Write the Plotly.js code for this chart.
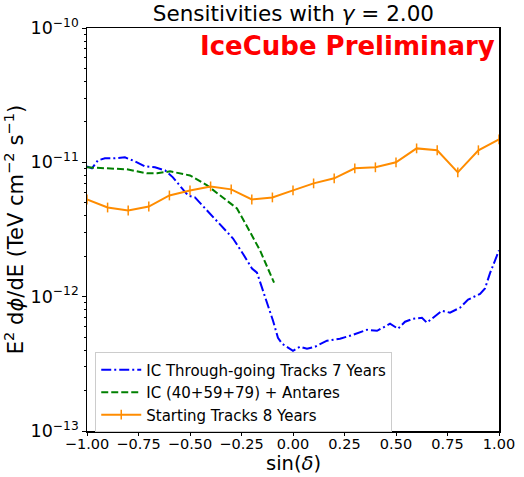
<!DOCTYPE html>
<html>
<head>
<meta charset="utf-8">
<script src="https://cdn.plot.ly/plotly-3.0.1.min.js"></script>
<style>html,body{margin:0;padding:0;background:#fff;}#chart{width:524px;height:477px;}</style>
</head>
<body>
<div id="chart"></div>
<script>
// IC Through-going Tracks 7 Years
const throughX = [-1.0,-0.976,-0.947,-0.913,-0.864,-0.816,-0.767,-0.718,-0.670,-0.621,-0.583,-0.549,-0.510,-0.476,-0.403,-0.340,-0.291,-0.243,-0.199,-0.175,-0.150,-0.126,-0.097,-0.073,-0.053,0.0,0.034,0.068,0.107,0.165,0.228,0.291,0.359,0.408,0.471,0.510,0.544,0.583,0.626,0.650,0.680,0.723,0.762,0.811,0.850,0.908,0.932,0.956,1.0];
const throughY = [9.33e-12,9.02e-12,1.035e-11,1.071e-11,1.071e-11,1.089e-11,1.017e-11,9.33e-12,9.18e-12,8.71e-12,7.73e-12,6.73e-12,5.67e-12,5.48e-12,4.16e-12,3.27e-12,2.71e-12,2.09e-12,1.62e-12,1.51e-12,1.17e-12,8.87e-13,6.62e-13,4.94e-13,4.46e-13,3.95e-13,4.24e-13,4.09e-13,4.24e-13,4.70e-13,4.86e-13,5.20e-13,5.67e-13,5.57e-13,6.29e-13,5.77e-13,6.51e-13,6.85e-13,6.97e-13,6.40e-13,6.97e-13,7.86e-13,7.60e-13,8.28e-13,9.51e-13,1.05e-12,1.15e-12,1.49e-12,2.21e-12];

// IC (40+59+79) + Antares
const antaresX = [-1.0,-0.903,-0.806,-0.709,-0.66,-0.597,-0.5,-0.417,-0.354,-0.272,-0.223,-0.160,-0.092];
const antaresY = [9.18e-12,9.02e-12,8.87e-12,8.28e-12,8.28e-12,8.57e-12,7.99e-12,6.74e-12,5.67e-12,4.54e-12,3.33e-12,2.21e-12,1.27e-12];

// Starting Tracks 8 Years
const startX = [-1.0,-0.9,-0.8,-0.7,-0.6,-0.5,-0.4,-0.3,-0.2,-0.1,0.0,0.1,0.2,0.3,0.4,0.5,0.6,0.7,0.8,0.9,1.0];
const startY = [5.29e-12,4.61e-12,4.38e-12,4.69e-12,5.67e-12,6.18e-12,6.62e-12,6.29e-12,5.29e-12,5.48e-12,6.18e-12,6.97e-12,7.60e-12,9.02e-12,9.18e-12,1.0e-11,1.27e-11,1.23e-11,8.42e-12,1.23e-11,1.48e-11];

const xTicks = [-1.0,-0.75,-0.5,-0.25,0.0,0.25,0.5,0.75,1.0];

const font = 'DejaVu Sans, sans-serif';

const traces = [
  {x: throughX, y: throughY, type: 'scatter', mode: 'lines', name: 'IC Through-going Tracks 7 Years',
   line: {color: '#0000ff', width: 2, dash: '10px,3px,2px,3px'}},
  {x: antaresX, y: antaresY, type: 'scatter', mode: 'lines', name: 'IC (40+59+79) + Antares',
   line: {color: '#008000', width: 2, dash: '7px,3px'}},
  {x: startX, y: startY, type: 'scatter', mode: 'lines+markers', name: 'Starting Tracks 8 Years',
   line: {color: '#ff8c00', width: 2},
   marker: {symbol: 'line-ns-open', size: 7, color: '#ff8c00', line: {color: '#ff8c00', width: 1.5}}}
];

const layout = {
  width: 524, height: 477,
  margin: {l: 87, r: 25, t: 28, b: 46},
  paper_bgcolor: '#fff', plot_bgcolor: '#fff',
  font: {family: font, color: '#000', size: 14},
  showlegend: true,
  title: {text: 'Sensitivities with <i>γ</i> = 2.00', font: {family: font, size: 21.5, color: '#000'},
          x: 0.56, xanchor: 'center', y: 0.972, yanchor: 'middle'},
  xaxis: {
    range: [-1, 1], tickvals: xTicks, tickformat: '.2f',
    ticks: 'outside', ticklen: 3, tickwidth: 1, tickcolor: '#000',
    showline: true, linecolor: '#000', linewidth: 1.5, mirror: true,
    showgrid: false, zeroline: false, ticklabelstandoff: -4,
    tickfont: {family: font, size: 14.5, color: '#000'}
  },
  yaxis: {
    type: 'log', range: [-13, -10], dtick: 1, exponentformat: 'power',
    ticks: 'outside', ticklen: 4, tickwidth: 1, tickcolor: '#000',
    showline: true, linecolor: '#000', linewidth: 1.5, mirror: true,
    showgrid: false, zeroline: false,
    minor: {ticks: 'outside', ticklen: 2, tickcolor: '#000', tickwidth: 1, showgrid: false},
    tickfont: {family: font, size: 14, color: '#000'},
    title: {text: 'E<sup>2</sup> d<i>ϕ</i>/dE (TeV cm<sup>−2</sup> s<sup>−1</sup>)', font: {family: font, size: 21, color: '#000'}, standoff: 4}
  },
  legend: {
    x: 0.02, y: 0.195, xanchor: 'left', yanchor: 'top',
    bgcolor: 'rgba(255,255,255,0.8)', bordercolor: '#cccccc', borderwidth: 1,
    font: {family: font, size: 15, color: '#000'},
    tracegroupgap: 0, itemwidth: 40
  },
  annotations: [
    {text: '<b>IceCube Preliminary</b>', xref: 'paper', yref: 'paper', x: 0.995, y: 0.998,
     xanchor: 'right', yanchor: 'top', showarrow: false,
     font: {family: font, size: 26, color: '#ff0000'}},
    {text: 'sin(<i>δ</i>)', xref: 'paper', yref: 'paper', x: 0.5, y: -0.081,
     xanchor: 'center', yanchor: 'middle', showarrow: false,
     font: {family: font, size: 19.5, color: '#000'}}
  ]
};

Plotly.newPlot('chart', traces, layout, {displayModeBar: false, staticPlot: true});
</script>
</body>
</html>
